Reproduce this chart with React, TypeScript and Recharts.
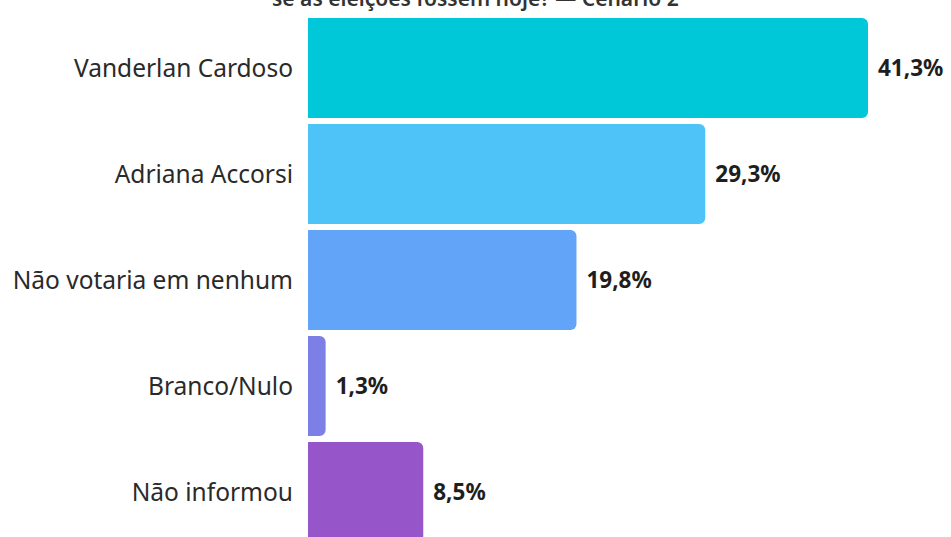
import { BarChart, Bar, XAxis, YAxis, Cell, LabelList } from 'recharts';

const categories = ['Vanderlan Cardoso', 'Adriana Accorsi', 'Não votaria em nenhum', 'Branco/Nulo', 'Não informou'];
const values = [41.3, 29.3, 19.8, 1.3, 8.5];
const colors = ['#00C8D8', '#4DC3F7', '#62A4F8', '#7B7FE6', '#9656CA'];

const data = categories.map((name, i) => ({ name, value: values[i] }));

const fmt = (v: number) => `${v.toFixed(1).replace('.', ',')}%`;

const App = () => {
  return (
    <div style={{ position: 'absolute', left: 0, top: 0, width: 951, height: 537, overflow: 'hidden', background: '#fff', fontFamily: '"Noto Sans", "Open Sans", sans-serif' }}>
      <div style={{ position: 'absolute', top: -16, left: 272, whiteSpace: 'nowrap', fontSize: 21, fontWeight: 600, color: '#333' }}>
        se as eleições fossem hoje? — Cenário 2
      </div>
      <BarChart
        width={951}
        height={550}
        data={data}
        layout="vertical"
        margin={{ top: 15, right: 83, bottom: 5, left: 0 }}
        barSize={100}
      >
        <XAxis type="number" domain={[0, 41.3]} hide />
        <YAxis
          type="category"
          dataKey="name"
          width={308}
          axisLine={false}
          tickLine={false}
          tickMargin={9}
          tick={{ fontSize: 24.5, fill: '#2a2a2a' }}
        />
        <Bar dataKey="value" radius={[0, 6, 6, 0]} isAnimationActive={false}>
          {data.map((d, i) => (
            <Cell key={d.name} fill={colors[i]} />
          ))}
          <LabelList
            dataKey="value"
            position="right"
            offset={10}
            formatter={(v: any) => fmt(Number(v))}
            style={{ fontSize: 22.5, fontWeight: 700, fill: '#1e1e1e' }}
          />
        </Bar>
      </BarChart>
    </div>
  );
};

export default App;
